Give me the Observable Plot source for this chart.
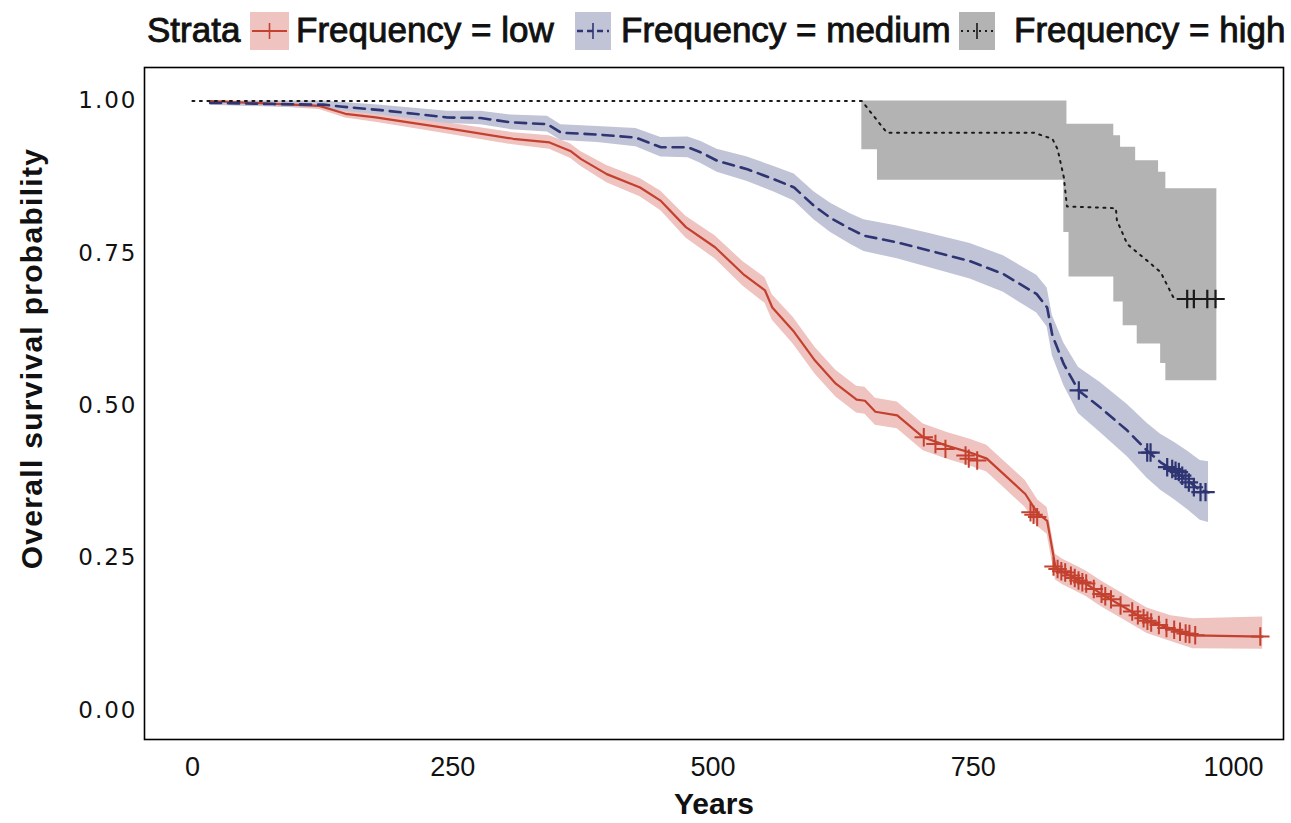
<!DOCTYPE html>
<html>
<head>
<meta charset="utf-8">
<script src="https://cdn.jsdelivr.net/npm/d3@7"></script>
<script src="https://cdn.jsdelivr.net/npm/@observablehq/plot@0.6"></script>
<style>
  body { margin: 0; background: #fff; }
  #legend { position: relative; width: 1291px; height: 60px; font-family: "Liberation Sans", Arial, sans-serif; font-size: 35px; color: #111; }
  #legend .t { position: absolute; top: 12px; line-height: 35px; white-space: nowrap; -webkit-text-stroke: 0.9px #111; }
  #legend svg { position: absolute; top: 12px; }
  #chart g[aria-label="y-axis tick label"] text { font-family: "DejaVu Sans", sans-serif; font-size: 23px; letter-spacing: 2px; }
  #chart g[aria-label="x-axis tick label"] text { font-family: "Liberation Sans", sans-serif; font-size: 27px; }
  #chart g[aria-label="x-axis label"] text,
  #chart g[aria-label="y-axis label"] text { font-family: "Liberation Sans", sans-serif; font-size: 30px; font-weight: bold; }
  #chart g[aria-label="y-axis label"] text { letter-spacing: 1.3px; }
</style>
</head>
<body>
<div id="legend"></div>
<div id="chart"></div>
<script>
// ---------- data ----------
const xTicks = [0, 250, 500, 750, 1000];
const yTicks = [0, 0.25, 0.5, 0.75, 1];
const strataTitle = "Strata";
const strataLabels = ["Frequency = low", "Frequency = medium", "Frequency = high"];

// low frequency
const lowTime  = [17, 122, 147, 176, 238, 308, 343, 363, 373, 398, 430, 450, 474, 502, 529, 550, 557, 577, 598, 618, 638, 646, 656, 677, 702, 725, 747, 763, 779, 800, 812, 821, 829, 836, 858, 873, 895, 917, 940, 961, 1028];
const lowSurv  = [1.000, .992, .979, .973, .957, .938, .932, .918, .905, .880, .858, .836, .793, .760, .716, .689, .661, .623, .574, .536, .510, .508, .490, .484, .448, .434, .423, .413, .388, .355, .323, .311, .235, .227, .208, .191, .169, .147, .134, .123, .121];
const lowLower = [.997, .986, .972, .965, .948, .928, .921, .906, .893, .866, .843, .820, .775, .741, .696, .668, .640, .601, .552, .514, .488, .486, .468, .462, .426, .412, .401, .391, .366, .333, .301, .289, .214, .206, .187, .170, .148, .126, .113, .101, .100];
const lowUpper = [1.000, .998, .986, .981, .966, .948, .943, .930, .917, .894, .873, .852, .811, .779, .736, .710, .682, .645, .596, .558, .532, .530, .512, .506, .470, .456, .445, .435, .410, .377, .345, .333, .256, .248, .229, .212, .190, .168, .155, .150, .153];
const lowCensTime = [702.5, 713.7, 723.3, 742.6, 745.7, 753.8, 805, 807.9, 811.4, 827.1, 831, 834.6, 838.3, 843.8, 847.5, 851.1, 854.8, 858.5, 865.8, 873.2, 876.8, 882.3, 891.5, 902.7, 908.1, 913.6, 917.3, 920.9, 928.3, 935.6, 943, 948.6, 954, 957.7, 963.2, 1025.7];
const lowCensSurv = [.448, .437, .429, .418, .413, .410, .325, .321, .317, .236, .232, .228, .226, .221, .217, .213, .210, .208, .199, .191, .187, .182, .172, .162, .156, .151, .147, .144, .140, .135, .132, .129, .126, .125, .123, .121];

// medium frequency
const medTime  = [17, 77, 126, 142, 181, 213, 245, 277, 306, 341, 354, 389, 426, 450, 476, 488, 504, 533, 558, 578, 597, 613, 632, 645, 677, 709, 747, 779, 811, 821, 826, 837, 851, 872, 898, 917, 930, 943, 956, 968, 976];
const medSurv  = [.997, .995, .994, .991, .985, .979, .973, .972, .965, .962, .948, .945, .940, .924, .924, .916, .902, .888, .872, .858, .828, .808, .790, .779, .768, .754, .737, .716, .683, .661, .615, .568, .525, .497, .459, .426, .407, .393, .377, .361, .358];
const medLower = [.993, .990, .988, .984, .977, .970, .963, .961, .953, .949, .935, .932, .925, .908, .907, .898, .883, .868, .851, .836, .805, .784, .765, .753, .741, .726, .708, .686, .652, .629, .582, .533, .487, .456, .416, .381, .361, .346, .329, .312, .308];
const medUpper = [1.000, 1.000, 1.000, .998, .993, .988, .983, .983, .977, .975, .961, .958, .955, .940, .941, .934, .921, .908, .893, .880, .851, .832, .815, .805, .795, .782, .766, .746, .714, .693, .648, .603, .563, .538, .502, .471, .453, .440, .425, .410, .408];
const medCensTime = [851.4, 917.1, 920.3, 936.3, 941.1, 944.3, 947.5, 950.7, 953.9, 957.1, 961.9, 968.3, 973.1];
const medCensSurv = [.525, .423, .423, .399, .396, .393, .391, .385, .380, .374, .366, .358, .358];

// high frequency
const highTime = [0, 643, 667, 808, 826, 831, 837, 840, 887, 888, 898, 917, 930, 943, 983];
const highSurv = [1.000, 1.000, .948, .948, .938, .921, .875, .827, .824, .804, .765, .738, .719, .675, .675];
const highBandTime  = [643, 658, 837, 840, 842, 885, 891.5, 894, 906, 907.5, 928, 930, 935, 984];
const highBandLower = [.920, .870, .784, .784, .711, .670, .670, .631, .631, .601, .601, .569, .541, .541];
const highBandUpper = [1.000, 1.000, 1.000, .962, .962, .943, .924, .924, .902, .902, .883, .883, .856, .856];
const highCensTime = [955.5, 961.9, 974.8, 982.7];
const highCensSurv = [.675, .675, .675, .675];

// ---------- styles ----------
const lineColors = ["#C4402F", "#2E3572", "#1a1a1a"];
const bandColors = ["#EFC3BF", "#C1C4D7", "#B3B3B3"];
const dashes = [null, "11,7", "2,5.5"];
const widths = [2.2, 2.6, 2];

// ---------- rows ----------
const rows = (t, s, lo, hi) => t.map((d, i) => ({t: d, s: s ? s[i] : null, lo: lo ? lo[i] : null, hi: hi ? hi[i] : null}));
const lowRows = rows(lowTime, lowSurv, lowLower, lowUpper);
const medRows = rows(medTime, medSurv, medLower, medUpper);
const highRows = rows(highTime, highSurv);
const highBand = rows(highBandTime, null, highBandLower, highBandUpper);
const lowCens = rows(lowCensTime, lowCensSurv);
const medCens = rows(medCensTime, medCensSurv);
const highCens = rows(highCensTime, highCensSurv);

// ---------- legend ----------
const legend = document.getElementById("legend");
const tEl = document.createElement("div");
tEl.className = "t"; tEl.style.left = "147px"; tEl.textContent = strataTitle;
legend.appendChild(tEl);
const swLeft = [250, 575, 959], swW = [39, 36, 36], txLeft = [296, 621, 1014];
strataLabels.forEach((lab, i) => {
  const ns = "http://www.w3.org/2000/svg";
  const svg = document.createElementNS(ns, "svg");
  svg.setAttribute("width", swW[i]); svg.setAttribute("height", 38);
  svg.style.left = swLeft[i] + "px";
  const r = document.createElementNS(ns, "rect");
  r.setAttribute("width", swW[i]); r.setAttribute("height", 38); r.setAttribute("fill", bandColors[i]);
  svg.appendChild(r);
  const l = document.createElementNS(ns, "line");
  l.setAttribute("x1", 2); l.setAttribute("x2", swW[i] - 2); l.setAttribute("y1", 19); l.setAttribute("y2", 19);
  l.setAttribute("stroke", lineColors[i]); l.setAttribute("stroke-width", widths[i]);
  if (dashes[i]) l.setAttribute("stroke-dasharray", i === 1 ? "6,4" : "2,4");
  svg.appendChild(l);
  const v = document.createElementNS(ns, "line");
  v.setAttribute("x1", swW[i] / 2); v.setAttribute("x2", swW[i] / 2); v.setAttribute("y1", 11); v.setAttribute("y2", 27);
  v.setAttribute("stroke", lineColors[i]); v.setAttribute("stroke-width", 1.6);
  svg.appendChild(v);
  legend.appendChild(svg);
  const tx = document.createElement("div");
  tx.className = "t"; tx.style.left = txLeft[i] + "px"; tx.textContent = lab;
  legend.appendChild(tx);
});

// ---------- chart ----------
const chart = Plot.plot({
  width: 1291,
  height: 763,
  marginTop: 7,
  marginBottom: 84,
  marginLeft: 144,
  marginRight: 8,
  style: {background: "#fff", color: "#111"},
  x: {domain: [-46, 1048]},
  y: {domain: [-0.048, 1.055]},
  marks: [
    Plot.areaY(lowRows, {x: "t", y1: "lo", y2: "hi", fill: bandColors[0]}),
    Plot.areaY(medRows, {x: "t", y1: "lo", y2: "hi", fill: bandColors[1]}),
    Plot.areaY(highBand, {x: "t", y1: "lo", y2: "hi", fill: bandColors[2], curve: "step-after"}),
    Plot.line(lowRows, {x: "t", y: "s", stroke: lineColors[0], strokeWidth: widths[0]}),
    Plot.line(medRows, {x: "t", y: "s", stroke: lineColors[1], strokeWidth: widths[1], strokeDasharray: dashes[1]}),
    Plot.line(highRows, {x: "t", y: "s", stroke: lineColors[2], strokeWidth: widths[2], strokeDasharray: dashes[2]}),
    Plot.dot(lowCens, {x: "t", y: "s", symbol: "plus", r: 6, stroke: lineColors[0], strokeWidth: 2}),
    Plot.dot(medCens, {x: "t", y: "s", symbol: "plus", r: 6, stroke: lineColors[1], strokeWidth: 2.2}),
    Plot.dot(highCens, {x: "t", y: "s", symbol: "plus", r: 6, stroke: lineColors[2], strokeWidth: 2.2}),
    Plot.frame({stroke: "#000", strokeWidth: 1.6}),
    Plot.axisX({ticks: xTicks, tickSize: 0, tickPadding: 17, tickFormat: d3.format("d"),
      label: "Years", labelAnchor: "center", labelOffset: 74, labelArrow: "none"}),
    Plot.axisY({ticks: yTicks, tickSize: 0, tickPadding: 7, tickFormat: d3.format(".2f"),
      label: "Overall survival probability", labelAnchor: "center", labelOffset: 124, labelArrow: "none"})
  ]
});
// the reference's y-axis title sits a little above the panel centre
const yLab = chart.querySelector('g[aria-label="y-axis label"] text');
if (yLab) yLab.setAttribute("dx", (parseFloat(yLab.getAttribute("dx")) || 0) + 45);
document.getElementById("chart").appendChild(chart);
</script>
</body>
</html>
